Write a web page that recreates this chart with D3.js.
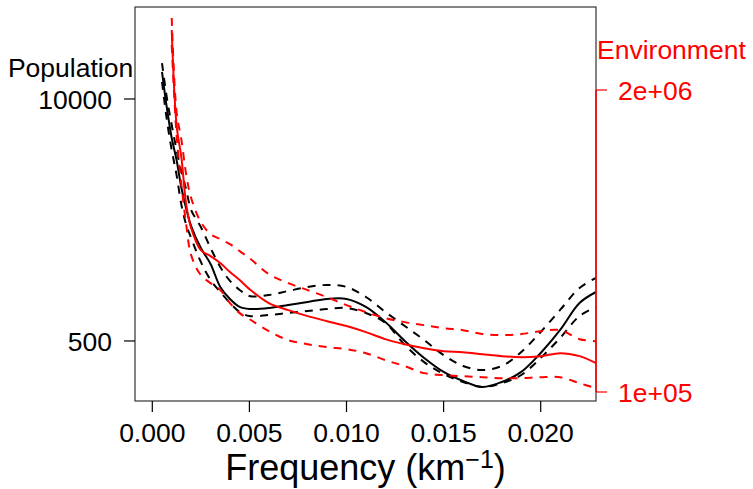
<!DOCTYPE html>
<html>
<head>
<meta charset="utf-8">
<title>Population vs Environment spectrum</title>
<script src="https://cdn.jsdelivr.net/npm/d3@7/dist/d3.min.js"></script>
<style>
  html, body { margin: 0; padding: 0; background: #fff; }
  svg text { font-family: "Liberation Sans", Arial, Helvetica, sans-serif; }
</style>
</head>
<body>
<svg id="chart" width="753" height="489"></svg>
<script>
// frequencies (km^-1) at which the curves were read
var freqPop = [0.0005, 0.00075, 0.001, 0.00125, 0.0015, 0.00175, 0.002, 0.0025, 0.003, 0.0035, 0.004, 0.0045, 0.005,
  0.006, 0.007, 0.008, 0.009, 0.010, 0.011, 0.012, 0.013, 0.014, 0.015, 0.016, 0.017, 0.018, 0.019, 0.020, 0.021, 0.022, 0.02285];
var freqEnv = freqPop.slice(2);

// population spectrum (left axis) with its bounds
var popMean  = [14000, 8950, 6170, 4700, 3322, 2563, 2076, 1581, 1297, 976, 841, 762, 743,
  752, 781, 811, 841, 841, 762, 632, 500, 405, 341, 305, 283, 301, 341, 431, 573, 800, 917];
var popUpper = [15610, 10120, 7250, 5320, 4052, 3243, 2532, 2050, 1581, 1250, 1051, 940, 873,
  883, 929, 976, 1000, 976, 862, 716, 602, 506, 420, 367, 349, 367, 436, 559, 734, 964, 1091];
var popLower = [12340, 7710, 5320, 3902, 2692, 2102, 1789, 1330, 1064, 917, 800, 716, 681,
  690, 707, 725, 743, 752, 707, 625, 476, 385, 332, 301, 283, 297, 328, 405, 519, 681, 762];

// environment spectrum (right axis) with its bounds
var envMean  = [3627000, 1413000, 1019000, 638500, 508300, 408400, 385000, 359200, 328600, 303400, 277500,
  241500, 225300, 212300, 201900, 192300, 181100, 169000, 160700, 154500, 149900, 148500, 145500, 142700, 141300, 142700, 147000, 142700, 133100];
var envUpper = [4087000, 1607000, 1218000, 860300, 684600, 539500, 478800, 455700, 433600, 404600, 377600,
  322000, 294500, 274800, 256300, 236700, 220900, 208100, 200000, 194100, 188400, 184700, 177600, 175800, 177600, 182900, 184700, 168900, 165600];
var envLower = [3126000, 1279000, 779000, 523800, 388900, 318800, 294500, 274800, 241500, 218700, 206000,
  182900, 167300, 160700, 156100, 153000, 147000, 137200, 129200, 120600, 118200, 117000, 115800, 114700, 114700, 115800, 115800, 109100, 103900];

var xTicks = [0.000, 0.005, 0.010, 0.015, 0.020];
var popTicks = [500, 10000];
var envTicks = [1e5, 2e6];
var envTickLabels = ["1e+05", "2e+06"];

var plotLeft = 135, plotRight = 596, plotTop = 7, plotBottom = 401;
var red = "#ff0000";

var svg = d3.select("#chart");

var x = d3.scaleLinear().domain([-0.000891, 0.022848]).range([plotLeft, plotRight]);
var yPop = d3.scaleLog().domain([237.8, 31230]).range([plotBottom, plotTop]);
var yEnv = d3.scaleLog().domain([91460, 4557000]).range([plotBottom, plotTop]);

svg.append("clipPath").attr("id", "plotclip")
  .append("rect").attr("x", plotLeft).attr("y", plotTop)
  .attr("width", plotRight - plotLeft).attr("height", plotBottom - plotTop);

var plot = svg.append("g").attr("clip-path", "url(#plotclip)");

function drawLine(xs, ys, scale, color, dashed) {
  var line = d3.line()
    .x(function(d, i) { return x(xs[i]); })
    .y(function(d) { return scale(d); })
    .curve(d3.curveCatmullRom.alpha(0.5));
  plot.append("path")
    .attr("d", line(ys))
    .attr("fill", "none")
    .attr("stroke", color)
    .attr("stroke-width", 2)
    .attr("stroke-dasharray", dashed ? "8,7" : null);
}

drawLine(freqPop, popUpper, yPop, "#000", true);
drawLine(freqPop, popLower, yPop, "#000", true);
drawLine(freqPop, popMean, yPop, "#000", false);
drawLine(freqEnv, envUpper, yEnv, red, true);
drawLine(freqEnv, envLower, yEnv, red, true);
drawLine(freqEnv, envMean, yEnv, red, false);

// box
svg.append("rect")
  .attr("x", plotLeft).attr("y", plotTop)
  .attr("width", plotRight - plotLeft).attr("height", plotBottom - plotTop)
  .attr("fill", "none").attr("stroke", "#333").attr("stroke-width", 1.2);

// bottom axis
var gx = svg.append("g");
xTicks.forEach(function(t) {
  gx.append("line").attr("x1", x(t)).attr("x2", x(t)).attr("y1", plotBottom).attr("y2", plotBottom + 11)
    .attr("stroke", "#000").attr("stroke-width", 1.2);
  gx.append("text").attr("x", x(t)).attr("y", 442).attr("text-anchor", "middle")
    .attr("font-size", "26.5px").attr("fill", "#000").text(d3.format(".3f")(t));
});

// left axis
var gl = svg.append("g");
popTicks.forEach(function(t) {
  gl.append("line").attr("x1", plotLeft - 11).attr("x2", plotLeft).attr("y1", yPop(t)).attr("y2", yPop(t))
    .attr("stroke", "#000").attr("stroke-width", 1.2);
  gl.append("text").attr("x", 112).attr("y", yPop(t) + 10).attr("text-anchor", "end")
    .attr("font-size", "26.5px").attr("fill", "#000").text(t);
});
svg.append("text").attr("x", 70.5).attr("y", 77).attr("text-anchor", "middle")
  .attr("font-size", "26.5px").attr("fill", "#000").text("Population");

// right axis (red)
var gr = svg.append("g");
gr.append("line").attr("x1", plotRight).attr("x2", plotRight)
  .attr("y1", yEnv(envTicks[1])).attr("y2", yEnv(envTicks[0]))
  .attr("stroke", red).attr("stroke-width", 1.5);
envTicks.forEach(function(t, i) {
  gr.append("line").attr("x1", plotRight).attr("x2", plotRight + 11).attr("y1", yEnv(t)).attr("y2", yEnv(t))
    .attr("stroke", red).attr("stroke-width", 1.2);
  gr.append("text").attr("x", 618).attr("y", yEnv(t) + 10).attr("text-anchor", "start")
    .attr("font-size", "26.5px").attr("fill", red).text(envTickLabels[i]);
});
svg.append("text").attr("x", 597).attr("y", 58.5).attr("text-anchor", "start")
  .attr("font-size", "26.5px").attr("fill", red).text("Environment");

// x title
var title = svg.append("text").attr("x", (plotLeft + plotRight) / 2).attr("y", 480)
  .attr("text-anchor", "middle").attr("font-size", "36px").attr("fill", "#000");
title.append("tspan").text("Frequency (km");
title.append("tspan").attr("font-size", "25px").attr("dy", -12).text("\u22121");
title.append("tspan").attr("dy", 12).text(")");
</script>
</body>
</html>
